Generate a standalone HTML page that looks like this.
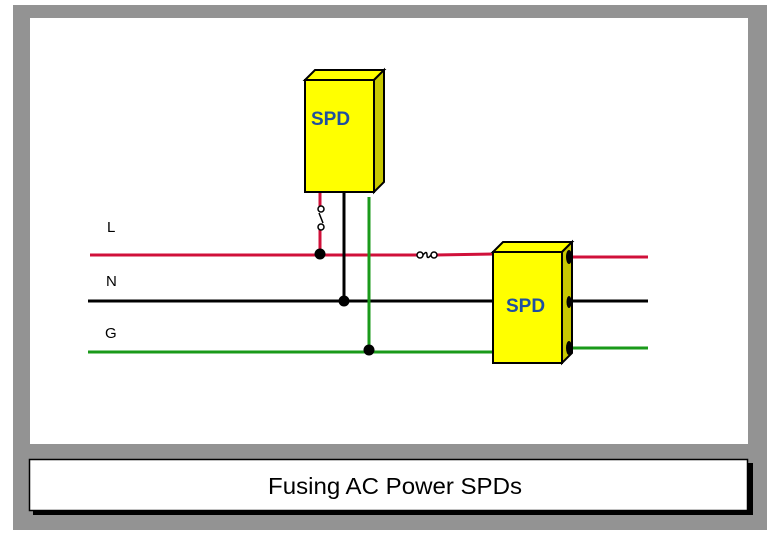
<!DOCTYPE html>
<html><head><style>
html,body{margin:0;padding:0;background:#fff;}
</style></head><body>
<svg width="780" height="540" viewBox="0 0 780 540" xmlns="http://www.w3.org/2000/svg" style="display:block">
<rect x="13" y="5" width="754" height="525" fill="#939393"/>
<rect x="30" y="18" width="718" height="426" fill="#fff"/>
<rect x="33" y="463" width="720" height="52" fill="#000"/>
<rect x="29.5" y="459.5" width="718" height="51" fill="#fff" stroke="#000" stroke-width="1.5"/>
<text x="395" y="494" font-family="Liberation Sans, sans-serif" font-size="23" text-anchor="middle" textLength="254" lengthAdjust="spacingAndGlyphs" fill="#000">Fusing AC Power SPDs</text>
<g font-family="Liberation Sans, sans-serif" font-size="15" fill="#000">
<text x="107" y="232">L</text><text x="106" y="286">N</text><text x="105" y="338">G</text>
</g>
<line x1="90" y1="255" x2="419" y2="255" stroke="#d0103a" stroke-width="3"/>
<line x1="435" y1="255" x2="494" y2="254" stroke="#d0103a" stroke-width="3"/>
<line x1="88" y1="301" x2="648" y2="301" stroke="#000" stroke-width="3"/>
<line x1="88" y1="352" x2="494" y2="352" stroke="#1a9a1a" stroke-width="3"/>
<line x1="568" y1="257" x2="648" y2="257" stroke="#d0103a" stroke-width="3"/>
<line x1="568" y1="348" x2="648" y2="348" stroke="#1a9a1a" stroke-width="3"/>
<circle cx="420" cy="255" r="3" fill="#fff" stroke="#000" stroke-width="1.5"/>
<circle cx="434" cy="255" r="3" fill="#fff" stroke="#000" stroke-width="1.5"/>
<path d="M423 255 Q427 250 427 255 Q427 260 431 255" fill="none" stroke="#000" stroke-width="1.5"/>
<line x1="320" y1="192" x2="320" y2="206" stroke="#d0103a" stroke-width="3"/>
<line x1="320" y1="230" x2="320" y2="255" stroke="#d0103a" stroke-width="3"/>
<circle cx="321" cy="209" r="3" fill="#fff" stroke="#000" stroke-width="1.5"/>
<circle cx="321" cy="227" r="3" fill="#fff" stroke="#000" stroke-width="1.5"/>
<line x1="319" y1="213" x2="323" y2="223" stroke="#000" stroke-width="1.5"/>
<line x1="344" y1="192" x2="344" y2="301" stroke="#000" stroke-width="3"/>
<line x1="369" y1="197" x2="369" y2="352" stroke="#1a9a1a" stroke-width="3"/>
<circle cx="320" cy="254" r="5.5" fill="#000"/>
<circle cx="344" cy="301" r="5.5" fill="#000"/>
<circle cx="369" cy="350" r="5.5" fill="#000"/>
<polygon points="305,80 315,70 384,70 374,80" fill="#ffff00" stroke="#000" stroke-width="2"/>
<polygon points="374,80 384,70 384,182 374,192" fill="#c8c800" stroke="#000" stroke-width="2"/>
<rect x="305" y="80" width="69" height="112" fill="#ffff00" stroke="#000" stroke-width="2"/>
<text x="311" y="125" font-family="Liberation Sans, sans-serif" font-weight="bold" font-size="19" fill="#1f4fa0">SPD</text>
<polygon points="493,252 503,242 572,242 562,252" fill="#ffff00" stroke="#000" stroke-width="2"/>
<polygon points="562,252 572,242 572,353 562,363" fill="#c8c800" stroke="#000" stroke-width="2"/>
<rect x="493" y="252" width="69" height="111" fill="#ffff00" stroke="#000" stroke-width="2"/>
<ellipse cx="569" cy="257" rx="3" ry="7" fill="#000"/>
<ellipse cx="569" cy="302" rx="2.5" ry="6" fill="#000"/>
<ellipse cx="569" cy="348" rx="3" ry="7" fill="#000"/>
<text x="506" y="312" font-family="Liberation Sans, sans-serif" font-weight="bold" font-size="19" fill="#1f4fa0">SPD</text>
</svg>
</body></html>
